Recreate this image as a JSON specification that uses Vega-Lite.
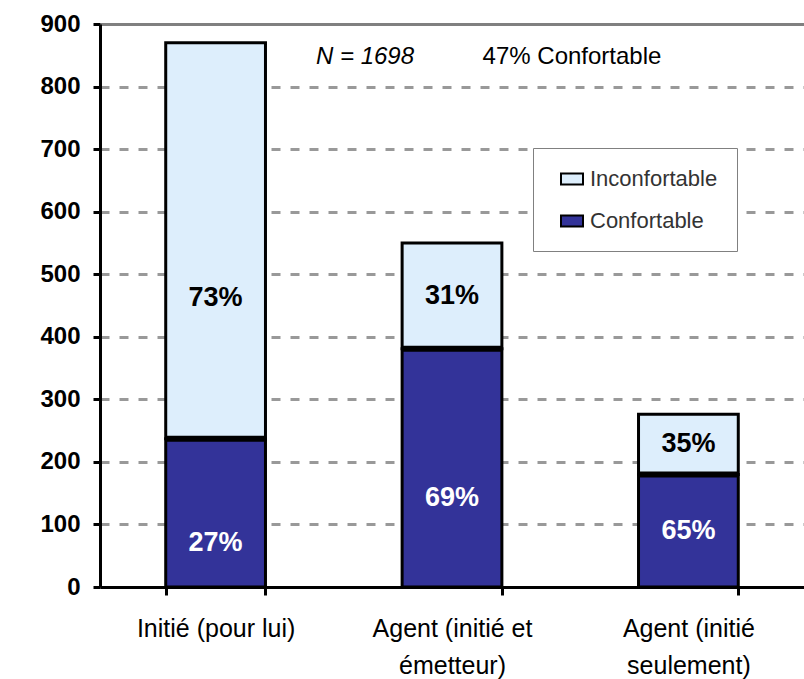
{
  "$schema": "https://vega.github.io/schema/vega-lite/v6.json",
  "width": 704,
  "height": 563,
  "autosize": {"type": "none"},
  "padding": {"left": 100, "top": 24, "right": 0, "bottom": 92},
  "background": "white",
  "config": {
    "view": {"stroke": null},
    "font": "Liberation Sans"
  },
  "data": {
    "values": [
      {"cat": "Initié (pour lui)", "status": "Confortable", "value": 237, "pct": "27%"},
      {"cat": "Initié (pour lui)", "status": "Inconfortable", "value": 633, "pct": "73%"},
      {"cat": "Agent (initié et émetteur)", "status": "Confortable", "value": 381, "pct": "69%"},
      {"cat": "Agent (initié et émetteur)", "status": "Inconfortable", "value": 169, "pct": "31%"},
      {"cat": "Agent (initié seulement)", "status": "Confortable", "value": 180, "pct": "65%"},
      {"cat": "Agent (initié seulement)", "status": "Inconfortable", "value": 96, "pct": "35%"}
    ]
  },
  "encoding": {
    "x": {
      "field": "cat",
      "type": "nominal",
      "sort": null,
      "scale": {"paddingInner": 0.578, "paddingOuter": 0.278},
      "axis": {
        "title": null,
        "labelAngle": 0,
        "labelFont": "Liberation Sans",
        "labelFontSize": 25,
        "labelColor": "black",
        "labelBaseline": "top",
        "labelPadding": 21,
        "labelLineHeight": 37,
        "labelExpr": "datum.value == 'Agent (initié et émetteur)' ? ['Agent (initié et', 'émetteur)'] : datum.value == 'Agent (initié seulement)' ? ['Agent (initié', 'seulement)'] : datum.value",
        "domainColor": "black",
        "domainWidth": 3,
        "tickColor": "black",
        "tickWidth": 3,
        "tickSize": 8,
        "tickBand": "extent",
        "labelLimit": 400
      }
    }
  },
  "layer": [
    {
      "mark": {"type": "bar", "stroke": "black", "strokeWidth": 3},
      "encoding": {
        "y": {
          "field": "value",
          "type": "quantitative",
          "stack": "zero",
          "scale": {"domain": [0, 900]},
          "axis": {
            "title": null,
            "values": [0, 100, 200, 300, 400, 500, 600, 700, 800, 900],
            "labelFont": "Liberation Sans",
            "labelFontSize": 24,
            "labelFontWeight": "bold",
            "labelColor": "black",
            "labelPadding": 13,
            "domainColor": "black",
            "domainWidth": 3,
            "tickColor": "black",
            "tickWidth": 3,
            "tickSize": 7,
            "grid": true,
            "gridColor": {"condition": {"test": "datum.value == 900", "value": "#808080"}, "value": "#999999"},
            "gridWidth": 3,
            "gridDash": {"condition": {"test": "datum.value == 900", "value": []}, "value": [9, 10]}
          }
        },
        "color": {
          "field": "status",
          "type": "nominal",
          "scale": {"domain": ["Inconfortable", "Confortable"], "range": ["#DDEEFC", "#333399"]},
          "legend": {
            "title": null,
            "orient": "none",
            "legendX": 433,
            "legendY": 124,
            "padding": 19,
            "rowPadding": 19,
            "symbolOffset": 8,
            "symbolType": "M-1,-0.5H1V0.5H-1Z",
            "symbolSize": 484,
            "symbolStrokeColor": "black",
            "symbolStrokeWidth": 2,
            "labelFont": "Liberation Sans",
            "labelFontSize": 22,
            "labelColor": "#333333",
            "labelOffset": 6,
            "strokeColor": "#808080",
            "fillColor": "white"
          }
        },
        "order": {"field": "status", "sort": "ascending"}
      }
    },
    {
      "transform": [{"filter": "datum.status === 'Confortable'"}],
      "mark": {"type": "tick", "color": "black", "thickness": 6, "size": 100, "opacity": 1},
      "encoding": {
        "y": {"field": "value", "type": "quantitative"}
      }
    },
    {
      "mark": {"type": "text", "font": "Liberation Sans", "fontSize": 27, "fontWeight": "bold", "baseline": "middle", "align": "center"},
      "encoding": {
        "y": {"field": "value", "type": "quantitative", "stack": "zero", "bandPosition": 0.5},
        "detail": {"field": "status"},
        "order": {"field": "status", "sort": "ascending"},
        "text": {"condition": {"test": "datum.pct === '31%' || datum.pct === '35%' || datum.pct === '65%'", "field": "pct"}, "value": ""},
        "color": {"condition": {"test": "datum.status === 'Confortable'", "value": "white"}, "value": "black"}
      }
    },
    {
      "mark": {"type": "text", "font": "Liberation Sans", "fontSize": 27, "fontWeight": "bold", "baseline": "middle", "align": "center", "dy": 57},
      "encoding": {
        "y": {"field": "value", "type": "quantitative", "stack": "zero", "bandPosition": 0.5},
        "detail": {"field": "status"},
        "order": {"field": "status", "sort": "ascending"},
        "text": {"condition": {"test": "datum.pct === '73%'", "field": "pct"}, "value": ""},
        "color": {"condition": {"test": "datum.status === 'Confortable'", "value": "white"}, "value": "black"}
      }
    },
    {
      "mark": {"type": "text", "font": "Liberation Sans", "fontSize": 27, "fontWeight": "bold", "baseline": "middle", "align": "center", "dy": 30},
      "encoding": {
        "y": {"field": "value", "type": "quantitative", "stack": "zero", "bandPosition": 0.5},
        "detail": {"field": "status"},
        "order": {"field": "status", "sort": "ascending"},
        "text": {"condition": {"test": "datum.pct === '27%' || datum.pct === '69%'", "field": "pct"}, "value": ""},
        "color": {"condition": {"test": "datum.status === 'Confortable'", "value": "white"}, "value": "black"}
      }
    },
    {
      "data": {"values": [{"cat": "Agent (initié et émetteur)", "y": 848}]},
      "mark": {"type": "text", "text": "N = 1698", "font": "Liberation Sans", "fontSize": 24, "fontStyle": "italic", "baseline": "middle", "align": "center", "dx": -87},
      "encoding": {
        "y": {"field": "y", "type": "quantitative"}
      }
    },
    {
      "data": {"values": [{"cat": "Agent (initié et émetteur)", "y": 848}]},
      "mark": {"type": "text", "text": "47% Confortable", "font": "Liberation Sans", "fontSize": 24, "baseline": "middle", "align": "center", "dx": 120},
      "encoding": {
        "y": {"field": "y", "type": "quantitative"}
      }
    }
  ]
}
